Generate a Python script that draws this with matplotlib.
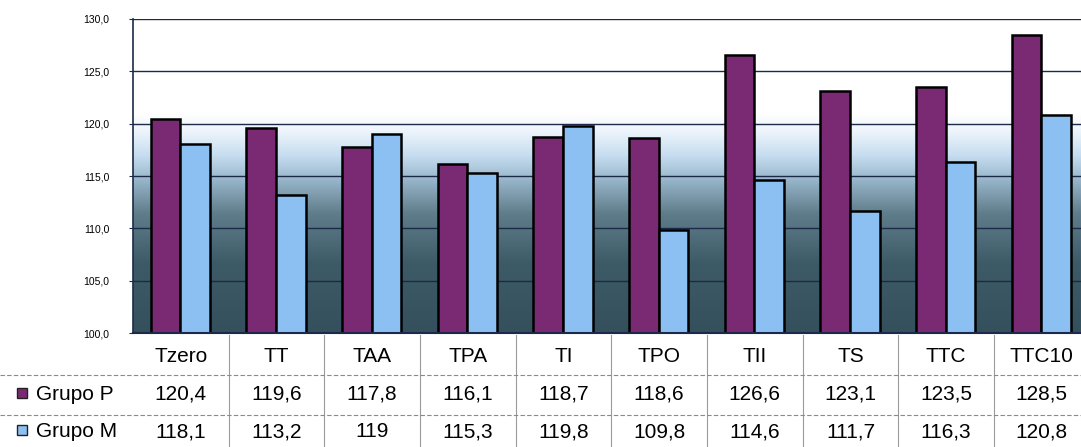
import numpy as np
import matplotlib
matplotlib.use("Agg")
import matplotlib.pyplot as plt
from matplotlib.colors import LinearSegmentedColormap
from matplotlib.transforms import blended_transform_factory

plt.rcParams["font.family"] = ["Liberation Sans", "DejaVu Sans"]

categories = ["Tzero", "TT", "TAA", "TPA", "TI", "TPO", "TII", "TS", "TTC", "TTC10"]
grupo_p = [120.4, 119.6, 117.8, 116.1, 118.7, 118.6, 126.6, 123.1, 123.5, 128.5]
grupo_m = [118.1, 113.2, 119, 115.3, 119.8, 109.8, 114.6, 111.7, 116.3, 120.8]
series_names = ["Grupo P", "Grupo M"]

color_p = "#7a2a72"
color_m = "#8cc0f2"

H = 447.0


def fmt(v):
    s = f"{v:.1f}".replace(".", ",")
    if v == int(v):
        s = str(int(v))
    return s


fig = plt.figure(figsize=(10.81, 4.47), dpi=100)
ax = fig.add_axes([0.123, 0.255, 0.885, 0.7025])

ymin, ymax = 100, 130
xmin, xmax = -0.5, 9.5
ax.set_xlim(xmin, xmax)
ax.set_ylim(ymin, ymax)

# background: white top fading through pale blue into dark slate
bg = LinearSegmentedColormap.from_list(
    "bg",
    [(0.0, "#34505c"), (0.22, "#3d5b67"), (0.38, "#5f7d8a"),
     (0.48, "#94b2c6"), (0.56, "#c4dbef"), (0.64, "#ecf4fb"), (0.70, "#ffffff"), (1.0, "#ffffff")],
)
grad = np.linspace(0, 1, 256).reshape(-1, 1)
ax.imshow(grad, cmap=bg, origin="lower", aspect="auto",
          extent=[xmin, xmax, ymin, ymax], zorder=0)

for y in range(100, 131, 5):
    ax.axhline(y, color="#1c2a4a", lw=1.0, zorder=1)

x = np.arange(len(categories))
w = 0.31
ax.bar(x - 0.16, [v - ymin for v in grupo_p], w, bottom=ymin, color=color_p,
       edgecolor="black", linewidth=1.8, zorder=2)
ax.bar(x + 0.15, [v - ymin for v in grupo_m], w, bottom=ymin, color=color_m,
       edgecolor="black", linewidth=1.8, zorder=2)

ax.set_yticks(range(100, 131, 5))
ax.set_yticklabels([f"{t},0" for t in range(100, 131, 5)], fontsize=7.5)
ax.tick_params(axis="y", length=3, color="#1c2a4a", pad=14)
ax.set_xticks([])
for side in ["top", "right"]:
    ax.spines[side].set_visible(False)
ax.spines["left"].set_color("#1c2a4a")
ax.spines["left"].set_linewidth(1.2)
ax.spines["bottom"].set_color("#1c2a4a")
ax.spines["bottom"].set_linewidth(1.5)

# data table under the plot (baselines in pixel rows from the top)
tr = blended_transform_factory(ax.transData, fig.transFigure)
trf = fig.transFigure
row_base = [1 - 362 / H, 1 - 400 / H, 1 - 437 / H]
line_y = [1 - 375 / H, 1 - 415 / H]
fs = 15

for i, c in enumerate(categories):
    ax.text(i, row_base[0], c, transform=tr, ha="center", va="baseline", fontsize=fs, clip_on=False)
    ax.text(i, row_base[1], fmt(grupo_p[i]), transform=tr, ha="center", va="baseline", fontsize=fs, clip_on=False)
    ax.text(i, row_base[2], fmt(grupo_m[i]), transform=tr, ha="center", va="baseline", fontsize=fs, clip_on=False)

for i in range(1, len(categories)):
    ax.plot([i - 0.5, i - 0.5], [0, 1 - 335 / H], transform=tr, color="#9a9a9a",
            lw=0.8, clip_on=False)

for ly in line_y:
    fig.add_artist(plt.Line2D([0.0, 1.0], [ly, ly], transform=trf, color="#8a8a8a",
                              lw=0.8, linestyle=(0, (4, 2))))

for name, col, rb in zip(series_names, [color_p, color_m], row_base[1:]):
    fig.add_artist(plt.Rectangle((17 / 1081, rb + 2 / H), 10 / 1081, 10 / H, transform=trf,
                                 facecolor=col, edgecolor="#222222", lw=1.0))
    fig.text(36 / 1081, rb, name, ha="left", va="baseline", fontsize=fs)

fig.savefig("out.png", dpi=100)
